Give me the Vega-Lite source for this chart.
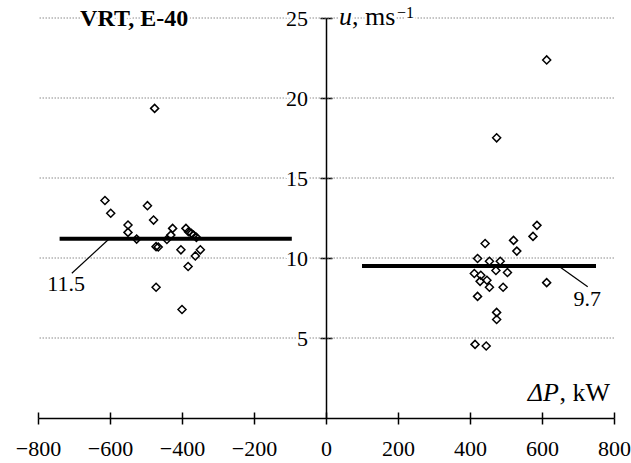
{
  "$schema": "https://vega.github.io/schema/vega-lite/v6.json",
  "width": 576,
  "height": 400,
  "autosize": {"type": "none"},
  "padding": {"left": 38, "top": 18, "right": 17, "bottom": 45},
  "background": "white",
  "config": {
    "view": {"stroke": null},
    "font": "Liberation Serif",
    "text": {"font": "Liberation Serif"},
    "axis": {"grid": false, "title": null, "domainColor": "black", "tickColor": "black", "labelColor": "black", "labelFont": "Liberation Serif", "domainWidth": 1.5, "tickWidth": 1.5}
  },
  "datasets": {
    "obs": [
      {"dp": -614, "u": 13.59}, {"dp": -598, "u": 12.8}, {"dp": -550, "u": 12.06}, {"dp": -550, "u": 11.6},
      {"dp": -526, "u": 11.18}, {"dp": -496, "u": 13.27}, {"dp": -479, "u": 12.37}, {"dp": -472, "u": 10.71},
      {"dp": -466, "u": 10.69}, {"dp": -472, "u": 8.17}, {"dp": -442, "u": 11.16}, {"dp": -431, "u": 11.43},
      {"dp": -426, "u": 11.85}, {"dp": -403, "u": 10.51}, {"dp": -400, "u": 6.78}, {"dp": -389, "u": 11.85},
      {"dp": -382, "u": 11.64}, {"dp": -374, "u": 11.54}, {"dp": -368, "u": 11.43}, {"dp": -360, "u": 11.29},
      {"dp": -349, "u": 10.51}, {"dp": -363, "u": 10.13}, {"dp": -383, "u": 9.47}, {"dp": -476, "u": 19.35},
      {"dp": 613, "u": 22.38}, {"dp": 474, "u": 17.51}, {"dp": 586, "u": 12.04}, {"dp": 575, "u": 11.35},
      {"dp": 442, "u": 10.91}, {"dp": 521, "u": 11.1}, {"dp": 530, "u": 10.43}, {"dp": 421, "u": 9.97},
      {"dp": 454, "u": 9.8}, {"dp": 484, "u": 9.8}, {"dp": 472, "u": 9.22}, {"dp": 504, "u": 9.09},
      {"dp": 412, "u": 9.03}, {"dp": 430, "u": 8.92}, {"dp": 428, "u": 8.54}, {"dp": 447, "u": 8.61},
      {"dp": 454, "u": 8.17}, {"dp": 492, "u": 8.17}, {"dp": 421, "u": 7.6}, {"dp": 474, "u": 6.6},
      {"dp": 474, "u": 6.16}, {"dp": 414, "u": 4.6}, {"dp": 445, "u": 4.5}, {"dp": 613, "u": 8.46}
    ],
    "ylab": [{"v": 5}, {"v": 10}, {"v": 15}, {"v": 20}, {"v": 25}]
  },
  "layer": [
    {
      "data": {"name": "ylab"},
      "mark": {"type": "rule", "color": "#8a8a8a", "strokeWidth": 1, "strokeDash": [1.5, 1.5]},
      "encoding": {"y": {"field": "v", "type": "quantitative", "scale": {"domain": [0, 25], "nice": false}, "axis": null}}
    },
    {
      "data": {"values": [{"x1": -740, "x2": -95, "m": 11.2}, {"x1": 100, "x2": 750, "m": 9.5}]},
      "mark": {"type": "rule", "color": "black", "strokeWidth": 4},
      "encoding": {
        "x": {"field": "x1", "type": "quantitative", "scale": {"domain": [-800, 800], "nice": false},
              "axis": {"orient": "top", "offset": -400, "labels": false, "domain": false, "ticks": true, "tickSize": 6, "tickColor": "black", "tickWidth": 1.5, "values": [-800, -600, -400, -200, 0, 200, 400, 600, 800]}},
        "x2": {"field": "x2"},
        "y": {"field": "m", "type": "quantitative", "scale": {"domain": [0, 25], "nice": false},
              "axis": {"orient": "right", "offset": -288, "labels": false, "domain": false, "ticks": true, "tickSize": 6, "tickColor": "black", "tickWidth": 1.5, "values": [5, 10, 15, 20, 25]}}
      }
    },
    {
      "data": {"values": [{"a": -706, "b": 9.05, "a2": -602, "b2": 11.2}, {"a": 646, "b": 9.5, "a2": 727, "b2": 8.2}]},
      "mark": {"type": "rule", "color": "black", "strokeWidth": 1.2},
      "encoding": {
        "x": {"field": "a", "type": "quantitative", "axis": null},
        "y": {"field": "b", "type": "quantitative", "axis": null},
        "x2": {"field": "a2"},
        "y2": {"field": "b2"}
      }
    },
    {
      "data": {"name": "obs"},
      "mark": {"type": "point", "shape": "diamond", "filled": false, "stroke": "black", "strokeWidth": 1.5, "size": 64, "opacity": 1},
      "encoding": {
        "x": {"field": "dp", "type": "quantitative", "scale": {"domain": [-800, 800], "nice": false},
              "axis": {"orient": "bottom", "values": [-800, -600, -400, -200, 0, 200, 400, 600, 800], "labelFont": "Liberation Serif", "labelFontSize": 22, "tickSize": 6, "labelPadding": 14, "labelFlush": false, "labelOverlap": false}},
        "y": {"field": "u", "type": "quantitative", "scale": {"domain": [0, 25], "nice": false},
              "axis": {"orient": "left", "offset": -288, "labels": false, "tickSize": 6, "values": [5, 10, 15, 20, 25]}}
      }
    },
    {
      "data": {"name": "ylab"},
      "mark": {"type": "text", "font": "Liberation Serif", "fontSize": 22, "align": "right", "baseline": "middle", "dx": -18, "dy": 1, "fill": "white", "stroke": "white", "strokeWidth": 5},
      "encoding": {"x": {"datum": 0, "type": "quantitative", "axis": null}, "y": {"field": "v", "type": "quantitative", "axis": null}, "text": {"field": "v"}}
    },
    {
      "data": {"values": [{"label": "VRT, E-40", "dp": -683, "u": 25}]},
      "mark": {"type": "text", "font": "Liberation Serif", "fontSize": 24, "fontWeight": "bold", "align": "left", "baseline": "middle", "dy": 1, "fill": "white", "stroke": "white", "strokeWidth": 5},
      "encoding": {"x": {"field": "dp", "type": "quantitative", "axis": null}, "y": {"field": "u", "type": "quantitative", "axis": null}, "text": {"field": "label"}}
    },
    {
      "data": {"values": [{"label": "u", "dp": 0, "u": 25}]},
      "mark": {"type": "text", "font": "Liberation Serif", "fontSize": 26, "fontStyle": "italic", "align": "left", "baseline": "alphabetic", "dx": 13, "dy": 7, "fill": "white", "stroke": "white", "strokeWidth": 5},
      "encoding": {"x": {"field": "dp", "type": "quantitative", "axis": null}, "y": {"field": "u", "type": "quantitative", "axis": null}, "text": {"field": "label"}}
    },
    {
      "data": {"values": [{"label": ", ms", "dp": 0, "u": 25}]},
      "mark": {"type": "text", "font": "Liberation Serif", "fontSize": 26, "align": "left", "baseline": "alphabetic", "dx": 26, "dy": 7, "fill": "white", "stroke": "white", "strokeWidth": 5},
      "encoding": {"x": {"field": "dp", "type": "quantitative", "axis": null}, "y": {"field": "u", "type": "quantitative", "axis": null}, "text": {"field": "label"}}
    },
    {
      "data": {"values": [{"label": "−1", "dp": 0, "u": 25}]},
      "mark": {"type": "text", "font": "Liberation Serif", "fontSize": 16, "align": "left", "baseline": "alphabetic", "dx": 71, "dy": 0, "fill": "white", "stroke": "white", "strokeWidth": 5},
      "encoding": {"x": {"field": "dp", "type": "quantitative", "axis": null}, "y": {"field": "u", "type": "quantitative", "axis": null}, "text": {"field": "label"}}
    },
    {
      "data": {"name": "ylab"},
      "mark": {"type": "text", "font": "Liberation Serif", "fontSize": 22, "align": "right", "baseline": "middle", "dx": -18, "dy": 1, "color": "black"},
      "encoding": {"x": {"datum": 0, "type": "quantitative", "axis": null}, "y": {"field": "v", "type": "quantitative", "axis": null}, "text": {"field": "v"}}
    },
    {
      "data": {"values": [{"label": "VRT, E-40", "dp": -683, "u": 25}]},
      "mark": {"type": "text", "font": "Liberation Serif", "fontSize": 24, "fontWeight": "bold", "align": "left", "baseline": "middle", "dy": 1, "color": "black"},
      "encoding": {"x": {"field": "dp", "type": "quantitative", "axis": null}, "y": {"field": "u", "type": "quantitative", "axis": null}, "text": {"field": "label"}}
    },
    {
      "data": {"values": [{"label": "u", "dp": 0, "u": 25}]},
      "mark": {"type": "text", "font": "Liberation Serif", "fontSize": 26, "fontStyle": "italic", "align": "left", "baseline": "alphabetic", "dx": 13, "dy": 7, "color": "black"},
      "encoding": {"x": {"field": "dp", "type": "quantitative", "axis": null}, "y": {"field": "u", "type": "quantitative", "axis": null}, "text": {"field": "label"}}
    },
    {
      "data": {"values": [{"label": ", ms", "dp": 0, "u": 25}]},
      "mark": {"type": "text", "font": "Liberation Serif", "fontSize": 26, "align": "left", "baseline": "alphabetic", "dx": 26, "dy": 7, "color": "black"},
      "encoding": {"x": {"field": "dp", "type": "quantitative", "axis": null}, "y": {"field": "u", "type": "quantitative", "axis": null}, "text": {"field": "label"}}
    },
    {
      "data": {"values": [{"label": "−1", "dp": 0, "u": 25}]},
      "mark": {"type": "text", "font": "Liberation Serif", "fontSize": 16, "align": "left", "baseline": "alphabetic", "dx": 71, "dy": 0, "color": "black"},
      "encoding": {"x": {"field": "dp", "type": "quantitative", "axis": null}, "y": {"field": "u", "type": "quantitative", "axis": null}, "text": {"field": "label"}}
    },
    {
      "data": {"values": [{"label": "ΔP", "dp": 800, "u": 0}]},
      "mark": {"type": "text", "font": "Liberation Serif", "fontSize": 26, "fontStyle": "italic", "align": "right", "baseline": "alphabetic", "dx": -55, "dy": -17, "color": "black"},
      "encoding": {"x": {"field": "dp", "type": "quantitative", "axis": null}, "y": {"field": "u", "type": "quantitative", "axis": null}, "text": {"field": "label"}}
    },
    {
      "data": {"values": [{"label": ", kW", "dp": 800, "u": 0}]},
      "mark": {"type": "text", "font": "Liberation Serif", "fontSize": 26, "align": "right", "baseline": "alphabetic", "dx": -4, "dy": -17, "color": "black"},
      "encoding": {"x": {"field": "dp", "type": "quantitative", "axis": null}, "y": {"field": "u", "type": "quantitative", "axis": null}, "text": {"field": "label"}}
    },
    {
      "data": {"values": [{"label": "11.5", "dp": -722, "u": 7.92}, {"label": "9.7", "dp": 726, "u": 6.99}]},
      "mark": {"type": "text", "font": "Liberation Serif", "fontSize": 22, "align": "center", "baseline": "alphabetic", "color": "black"},
      "encoding": {"x": {"field": "dp", "type": "quantitative", "axis": null}, "y": {"field": "u", "type": "quantitative", "axis": null}, "text": {"field": "label"}}
    }
  ],
  "resolve": {"axis": {"x": "independent", "y": "independent"}}
}
